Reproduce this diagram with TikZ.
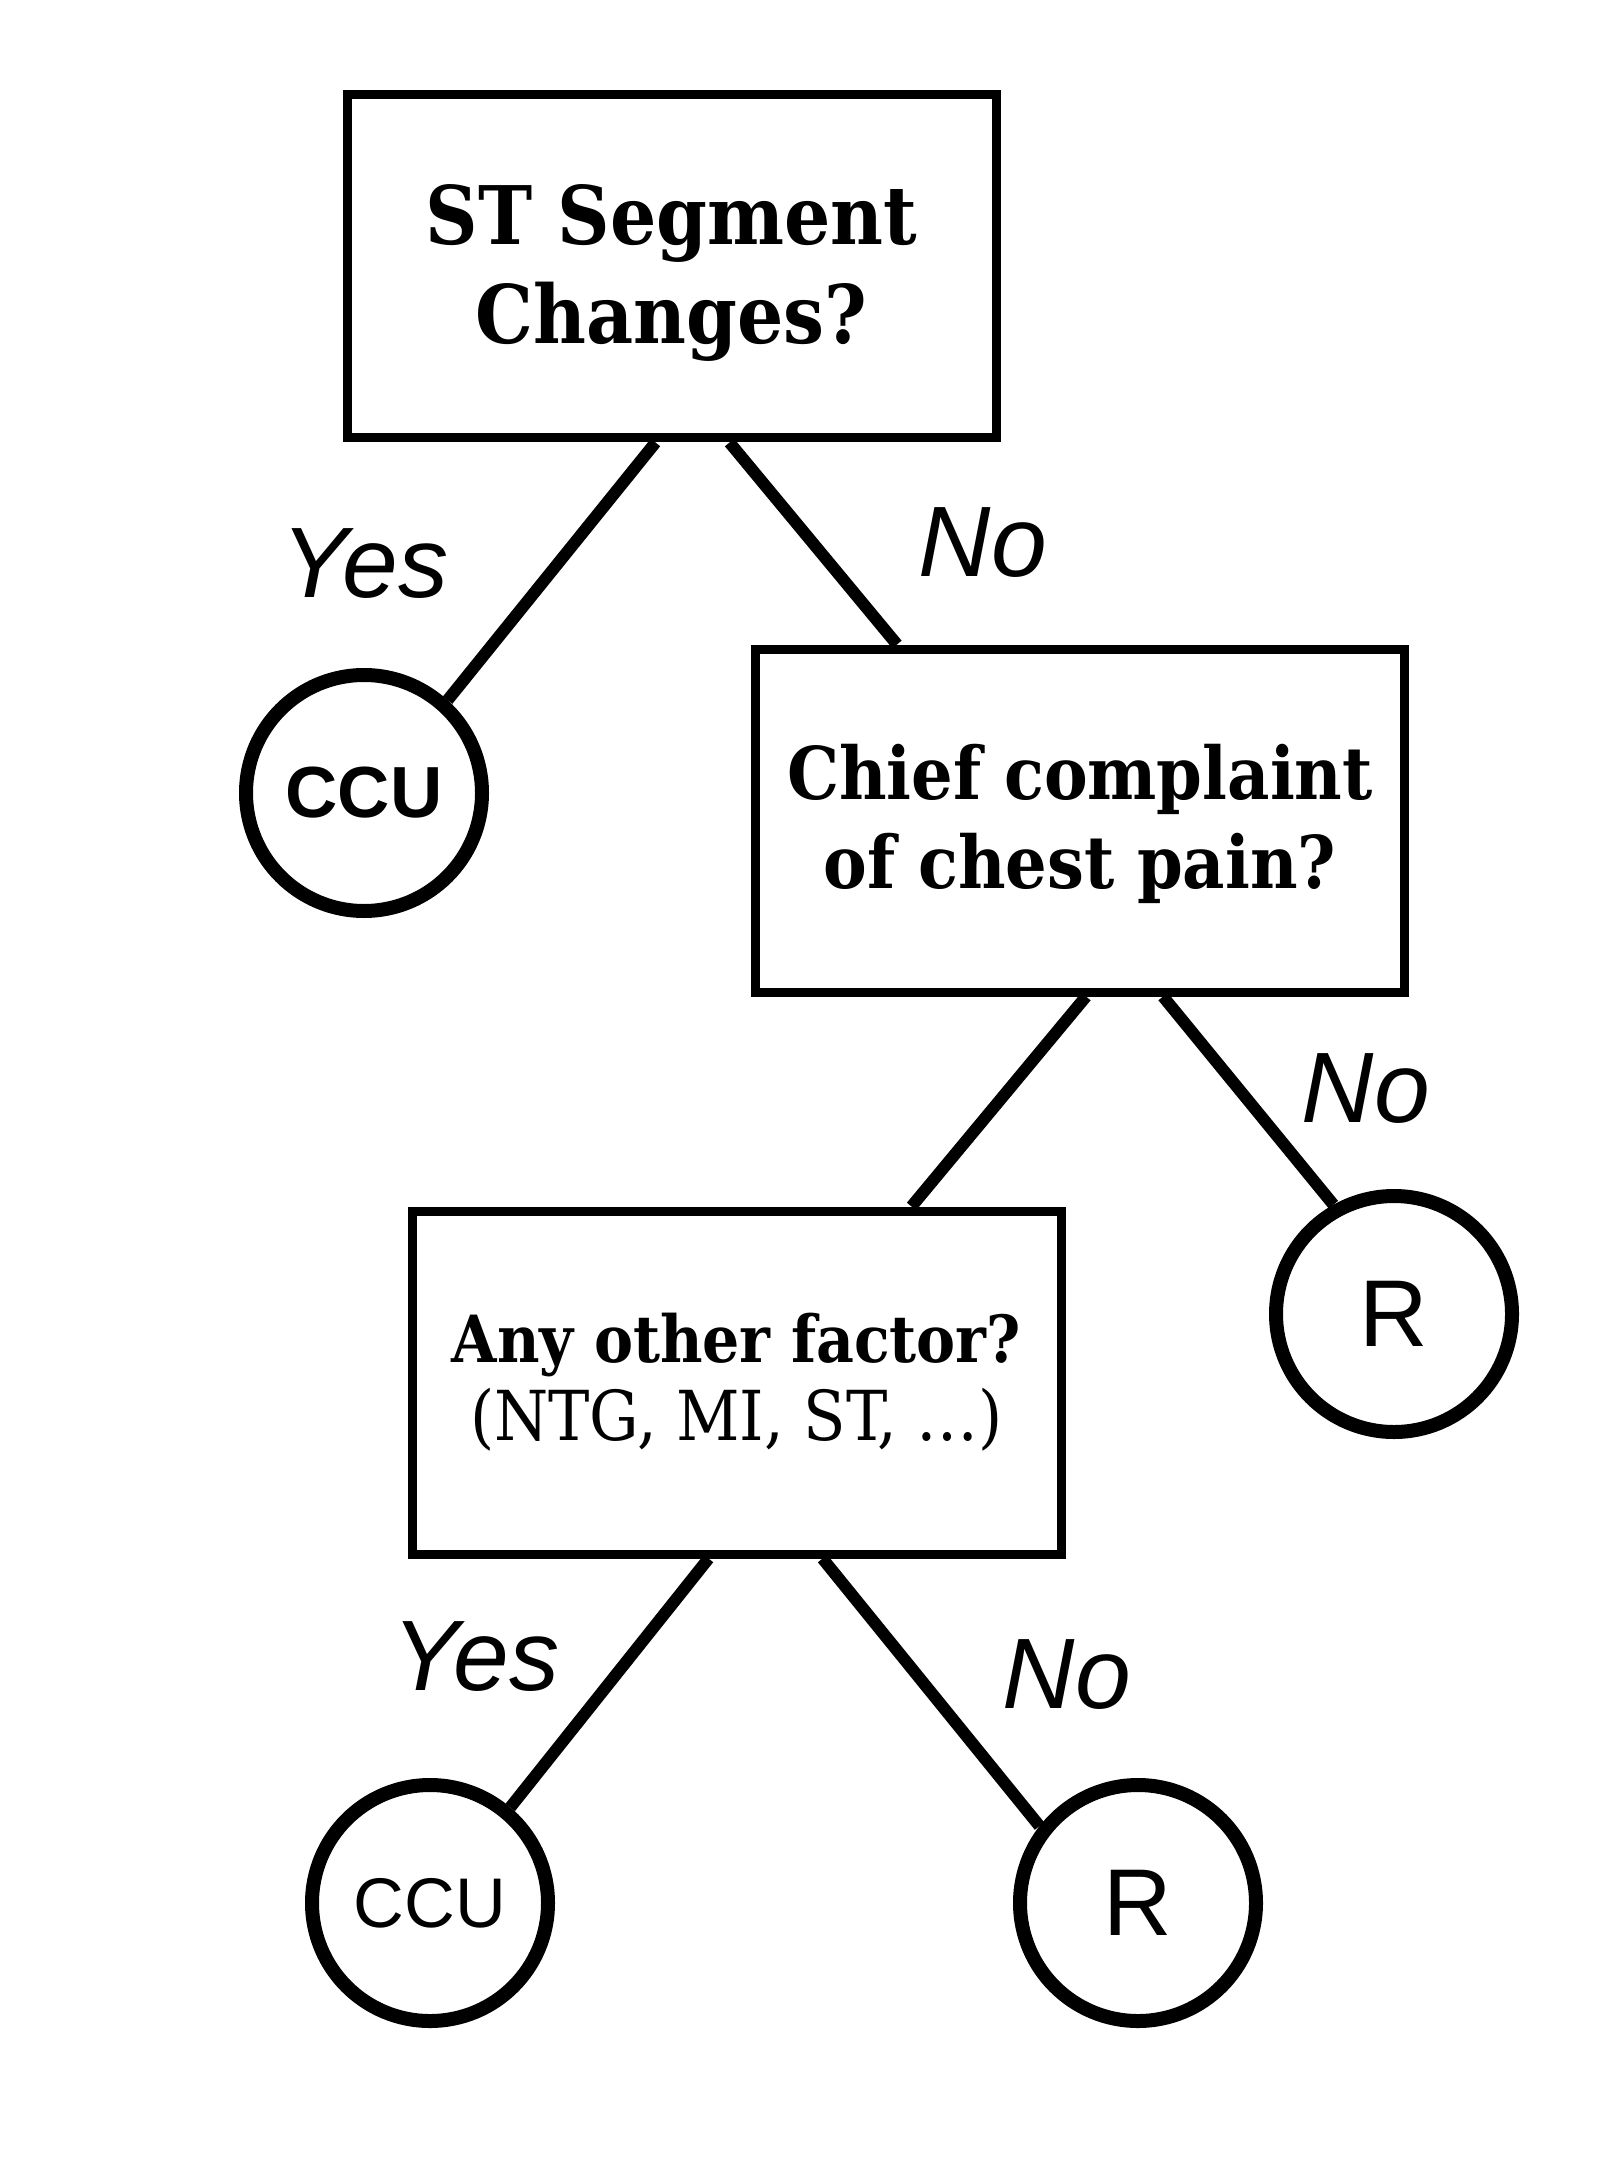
\documentclass[tikz,border=0pt]{standalone}
\usepackage{fontspec}
\setsansfont{Liberation Sans}
\newfontfamily\questionfont{DejaVu Serif Condensed}
\tikzset{question/.style={rectangle, draw, line width=0.09cm, minimum width=6.49cm, minimum height=3.43cm, align=center}}
\tikzset{leaf/.style={circle, draw, line width=0.14cm, minimum size=2.36cm, inner sep=0pt}}
\tikzset{answer/.style={anchor=base, inner sep=0pt, font=\sffamily\itshape\fontsize{28.5}{28.5}\selectfont}}
\tikzset{edge/.style={line width=0.12cm}}

\begin{document}
\begin{tikzpicture}
  \useasboundingbox (0,0) rectangle (16.23,-21.80);

  \node[question, font=\questionfont\bfseries\fontsize{23}{28.2}\selectfont] (question-1) at (6.715,-2.665) {\rule{0pt}{0.9em}ST Segment\\Changes?};
  \node[question, font=\questionfont\bfseries\fontsize{20.7}{25.3}\selectfont] (question-2) at (10.80,-8.205) {\rule{0pt}{0.85em}Chief complaint\\of chest pain?};
  \node[question, font=\questionfont\fontsize{18.5}{22.2}\selectfont] (question-3) at (7.365,-13.825) {{\bfseries Any other factor?}\\{\fontsize{19.6}{22.2}\selectfont(NTG, MI, ST, …)}};

  \node[leaf, font=\sffamily\bfseries\fontsize{20.6}{20.6}\selectfont] (leaf-ccu-1) at (3.64,-7.93) {CCU};
  \node[leaf, font=\sffamily\fontsize{27}{27}\selectfont] (leaf-r-1) at (13.94,-13.14) {R};
  \node[leaf, font=\sffamily\fontsize{20}{20}\selectfont] (leaf-ccu-2) at (4.30,-19.03) {CCU};
  \node[leaf, font=\sffamily\fontsize{27}{27}\selectfont] (leaf-r-2) at (11.38,-19.03) {R};

  \node[answer] (yes-1) at (3.65,-5.98) {Yes};
  \node[answer] (no-1) at (9.83,-5.77) {No};
  \node[answer] (no-2) at (13.66,-11.22) {No};
  \node[answer] (yes-2) at (4.76,-16.90) {Yes};
  \node[answer] (no-3) at (10.67,-17.08) {No};

  \draw[edge] ([xshift=-0.16cm]question-1.south) -- (leaf-ccu-1.48);
  \draw[edge] ([xshift=0.58cm]question-1.south) -- ([xshift=-1.83cm]question-2.north);

  \draw[edge] ([xshift=0.06cm]question-2.south) -- ([xshift=1.75cm]question-3.north);
  \draw[edge] ([xshift=0.83cm]question-2.south) -- (leaf-r-1.119);

  \draw[edge] ([xshift=-0.28cm]question-3.south) -- (leaf-ccu-2.50);
  \draw[edge] ([xshift=0.86cm]question-3.south) -- (leaf-r-2.142);
\end{tikzpicture}
\end{document}
